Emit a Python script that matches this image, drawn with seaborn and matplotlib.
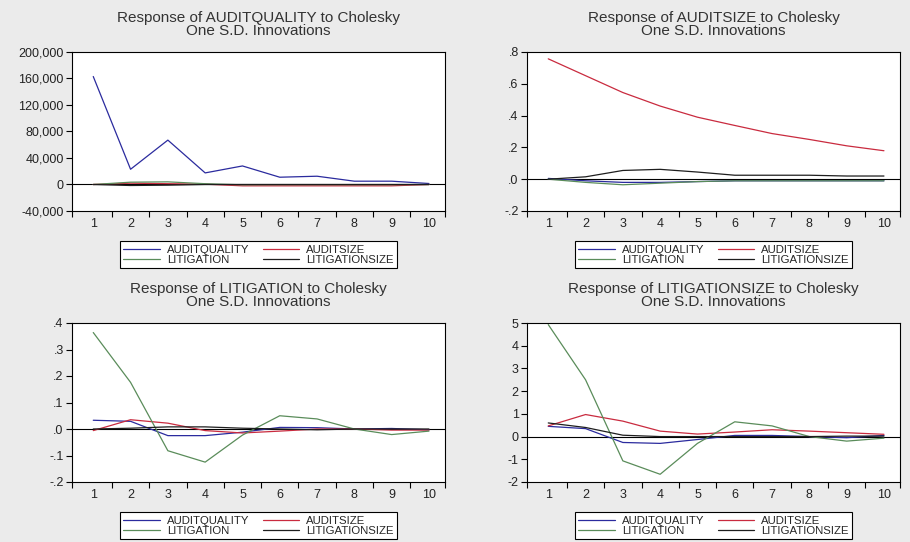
import matplotlib
matplotlib.use("Agg")
import matplotlib.pyplot as plt
import matplotlib.ticker as mticker
import numpy as np
import pandas as pd
import seaborn as sns

periods = list(range(1, 11))
shocks = ["AUDITQUALITY", "AUDITSIZE", "LITIGATION", "LITIGATIONSIZE"]

# Response of AUDITQUALITY
aq_to_aq = [163000, 23000, 67000, 17500, 28000, 11000, 12500, 5000, 5000, 1500]
aq_to_as = [0, 2000, 1200, 500, -2000, -2000, -2000, -2000, -2000, 0]
aq_to_lit = [0, 3500, 4000, 1200, -500, -300, -300, -300, -300, 0]
aq_to_ls = [0, -1500, -1000, 0, 0, 0, 0, 0, 0, 0]

# Response of AUDITSIZE
as_to_aq = [0.005, -0.01, -0.02, -0.02, -0.015, -0.01, -0.01, -0.01, -0.01, -0.01]
as_to_as = [0.757, 0.651, 0.545, 0.46, 0.39, 0.338, 0.287, 0.25, 0.21, 0.179]
as_to_lit = [0.0, -0.02, -0.035, -0.025, -0.015, -0.01, -0.01, -0.01, -0.01, -0.01]
as_to_ls = [0.0, 0.015, 0.055, 0.062, 0.045, 0.025, 0.025, 0.025, 0.02, 0.02]

# Response of LITIGATION
lit_to_aq = [0.033, 0.029, -0.025, -0.025, -0.012, 0.006, 0.005, 0.0, 0.002, -0.003]
lit_to_as = [-0.006, 0.035, 0.022, -0.006, -0.015, -0.008, 0.0, 0.0, -0.004, -0.004]
lit_to_lit = [0.364, 0.176, -0.082, -0.125, -0.023, 0.05, 0.038, 0.0, -0.021, -0.008]
lit_to_ls = [0.0, 0.003, 0.008, 0.008, 0.003, 0.0, -0.003, 0.0, 0.0, 0.0]

# Response of LITIGATIONSIZE
ls_to_aq = [0.45, 0.35, -0.26, -0.3, -0.13, 0.05, 0.05, 0.0, -0.05, 0.05]
ls_to_as = [0.47, 0.97, 0.68, 0.24, 0.11, 0.2, 0.3, 0.24, 0.17, 0.1]
ls_to_lit = [4.93, 2.5, -1.07, -1.66, -0.3, 0.65, 0.47, 0.0, -0.2, -0.07]
ls_to_ls = [0.6, 0.4, 0.06, 0.0, 0.0, 0.0, 0.0, 0.0, 0.02, 0.02]

titles = ["AUDITQUALITY", "AUDITSIZE", "LITIGATION", "LITIGATIONSIZE"]
ylims = [(-40000, 200000), (-0.2, 0.8), (-0.2, 0.4), (-2, 5)]
ysteps = [40000, 0.2, 0.1, 1]
responses = [
    [aq_to_aq, aq_to_as, aq_to_lit, aq_to_ls],
    [as_to_aq, as_to_as, as_to_lit, as_to_ls],
    [lit_to_aq, lit_to_as, lit_to_lit, lit_to_ls],
    [ls_to_aq, ls_to_as, ls_to_lit, ls_to_ls],
]

palette = {
    "AUDITQUALITY": "#2b2b9e",
    "AUDITSIZE": "#c92b3f",
    "LITIGATION": "#5a8c5a",
    "LITIGATIONSIZE": "#1e1e1e",
}

sns.set_theme(style="ticks")
plt.rcParams["font.family"] = ["Liberation Sans", "DejaVu Sans"]


def eviews_fmt(v, _pos=None):
    s = f"{v:.1f}"
    return s.replace("0.", ".")


fig = plt.figure(figsize=(9.1, 5.42), dpi=100)
fig.patch.set_facecolor("#ebebeb")

positions = [
    (72 / 910, 1 - 211 / 542),
    (527 / 910, 1 - 211 / 542),
    (72 / 910, 1 - 482 / 542),
    (527 / 910, 1 - 482 / 542),
]
w, h = 373 / 910, 159 / 542

for i in range(4):
    ax = fig.add_axes([positions[i][0], positions[i][1], w, h])
    ax.set_facecolor("white")
    df = pd.DataFrame({
        "period": periods * 4,
        "value": sum(responses[i], []),
        "shock": np.repeat(shocks, len(periods)),
    })
    ax.axhline(0, color="black", lw=0.8, zorder=1)
    sns.lineplot(data=df, x="period", y="value", hue="shock", hue_order=shocks,
                 palette=palette, linewidth=0.9, ax=ax, zorder=3)
    ax.set_xlim(0.43, 10.43)
    lo, hi = ylims[i]
    ax.set_ylim(lo, hi)
    ax.set_yticks(np.arange(lo, hi + ysteps[i] / 2, ysteps[i]))
    if i == 0:
        ax.yaxis.set_major_formatter(mticker.FuncFormatter(lambda v, p: f"{v:,.0f}"))
    elif i == 3:
        ax.yaxis.set_major_formatter(mticker.FuncFormatter(lambda v, p: f"{v:.0f}"))
    else:
        ax.yaxis.set_major_formatter(mticker.FuncFormatter(eviews_fmt))
    ax.set_xticks(periods)
    ax.set_xticks([0.43] + [p + 0.5 for p in periods[:-1]] + [10.43], minor=True)
    ax.tick_params(axis="x", which="major", length=0, pad=5, labelsize=9, colors="#222222")
    ax.tick_params(axis="x", which="minor", length=4, width=0.8, direction="out", color="black")
    ax.tick_params(axis="y", length=4, width=0.8, direction="out", labelsize=9,
                   colors="#222222", pad=2)
    ax.tick_params(axis="y", color="black")
    for sp in ax.spines.values():
        sp.set_visible(True)
        sp.set_color("black")
        sp.set_linewidth(0.8)
    ax.set_xlabel("")
    ax.set_ylabel("")
    ax.set_title(f"Response of {titles[i]} to Cholesky\nOne S.D. Innovations",
                 fontsize=11, color="#333333", pad=12, linespacing=0.95)

    # legend filled row by row, as in the original
    handles, labels = ax.get_legend_handles_labels()
    order = [0, 2, 1, 3]
    ax.get_legend().remove()
    leg = ax.legend([handles[k] for k in order], [labels[k] for k in order],
                    loc="upper center", bbox_to_anchor=(0.5, -0.155), ncol=2,
                    frameon=True, fancybox=False, fontsize=8.2,
                    handlelength=3.2, columnspacing=1.2, borderpad=0.3,
                    labelspacing=0.0, handletextpad=0.6, edgecolor="black",
                    framealpha=1)
    leg.get_frame().set_linewidth(0.8)
    for line in leg.get_lines():
        line.set_linewidth(0.9)

fig.savefig("out.png", dpi=100, facecolor=fig.get_facecolor())
